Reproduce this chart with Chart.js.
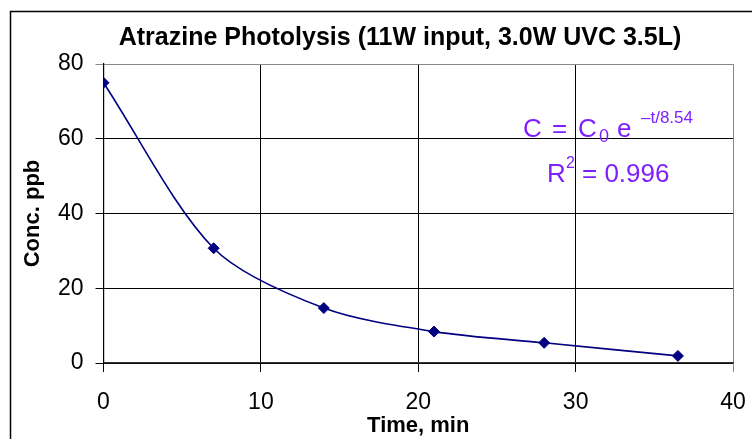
<!DOCTYPE html>
<html>
<head>
<meta charset="utf-8">
<script src="https://cdn.jsdelivr.net/npm/chart.js@4"></script>
<style>
  body { margin: 0; background: #fff; }
  #wrap { width: 752px; height: 439px; }
</style>
</head>
<body>
<div id="wrap"><canvas id="grafic" width="752" height="439"></canvas></div>
<script>
// Date
const timpMin = [0, 7, 14, 21, 28, 36.5];
const concPpb = [75, 30.7, 14.7, 8.4, 5.4, 1.9];
const tickuriX = [0, 10, 20, 30, 40];
const tickuriY = [0, 20, 40, 60, 80];
const titlu = 'Atrazine Photolysis (11W input, 3.0W UVC 3.5L)';

const navy = '#000080';
const violet = '#7f1fff';
const font = "'Liberation Sans', Arial, sans-serif";

// Chenar exterior (iese din imagine la dreapta si jos) + titlu
const chenar = {
    id: 'chenar',
    beforeDraw(chart) {
        const c = chart.ctx;
        c.save();
        c.fillStyle = '#fff';
        c.fillRect(0, 0, chart.width, chart.height);
        c.strokeStyle = '#000';
        c.lineWidth = 1.5;
        c.beginPath();
        c.moveTo(10.5, chart.height + 5);
        c.lineTo(10.5, 11.5);
        c.lineTo(chart.width + 5, 11.5);
        c.stroke();
        c.fillStyle = '#000';
        c.font = 'bold 25px ' + font;
        c.textAlign = 'center';
        c.textBaseline = 'middle';
        c.fillText(titlu, 400, 38);
        c.restore();
    }
};

// Ecuatia de regresie
const ecuatie = {
    id: 'ecuatie',
    afterDatasetsDraw(chart) {
        const c = chart.ctx;
        c.save();
        c.fillStyle = violet;
        c.textBaseline = 'alphabetic';
        c.font = '26px ' + font;
        c.fillText('C', 523, 137);
        c.fillText('=', 552, 137);
        c.fillText('C', 578, 137);
        c.font = '18px ' + font;
        c.fillText('0', 599, 142);
        c.font = '26px ' + font;
        c.fillText('e', 617, 137);
        c.font = '17px ' + font;
        c.fillText('\u2013t/8.54', 641, 123);
        c.font = '26px ' + font;
        c.fillText('R', 547, 182);
        c.font = '16px ' + font;
        c.fillText('2', 566, 168);
        c.font = '26px ' + font;
        c.fillText('= 0.996', 582, 182);
        c.restore();
    }
};

new Chart(document.getElementById('grafic').getContext('2d'), {
    type: 'line',
    data: {
        datasets: [{
            data: timpMin.map((t, i) => ({ x: t, y: concPpb[i] })),
            borderColor: navy,
            backgroundColor: navy,
            borderWidth: 1.6,
            pointStyle: 'rectRot',
            pointRadius: 5.5,
            pointBorderWidth: 1,
            tension: 0.3,
            fill: false
        }]
    },
    options: {
        responsive: false,
        animation: false,
        layout: { padding: { left: 20, right: 19, top: 64, bottom: 0 } },
        plugins: {
            legend: { display: false },
            tooltip: { enabled: false },
            title: { display: false }
        },
        scales: {
            x: {
                type: 'linear',
                min: 0, max: 40,
                afterBuildTicks: s => { s.ticks = tickuriX.map(v => ({ value: v })); },
                afterFit: s => { s.height = 76; s.paddingLeft = 0; s.paddingRight = 0; },
                grid: {
                    color: c => c.tick && c.tick.value === 40 ? '#888' : '#000',
                    lineWidth: 1,
                    tickLength: 9
                },
                border: { color: '#333', width: 1.2 },
                ticks: {
                    color: '#000',
                    font: { family: font, size: 23 },
                    padding: 17,
                    maxRotation: 0
                },
                title: {
                    display: true,
                    text: 'Time, min',
                    color: '#000',
                    font: { family: font, size: 22, weight: 'bold' },
                    padding: { top: 0, bottom: 0 }
                }
            },
            y: {
                min: 0, max: 80,
                afterBuildTicks: s => { s.ticks = tickuriY.map(v => ({ value: v })); },
                afterFit: s => { s.width = 83.5; s.paddingTop = 0; s.paddingBottom = 0; },
                grid: {
                    color: c => c.tick && c.tick.value === 80 ? '#888' : '#000',
                    lineWidth: 1,
                    tickLength: 8
                },
                border: { color: '#000', width: 1.2 },
                ticks: {
                    color: '#000',
                    font: { family: font, size: 23 },
                    padding: 12
                },
                title: {
                    display: true,
                    text: 'Conc. ppb',
                    color: '#000',
                    font: { family: font, size: 22, weight: 'bold' },
                    padding: { top: 0, bottom: 0 }
                }
            }
        }
    },
    plugins: [chenar, ecuatie]
});
</script>
</body>
</html>
